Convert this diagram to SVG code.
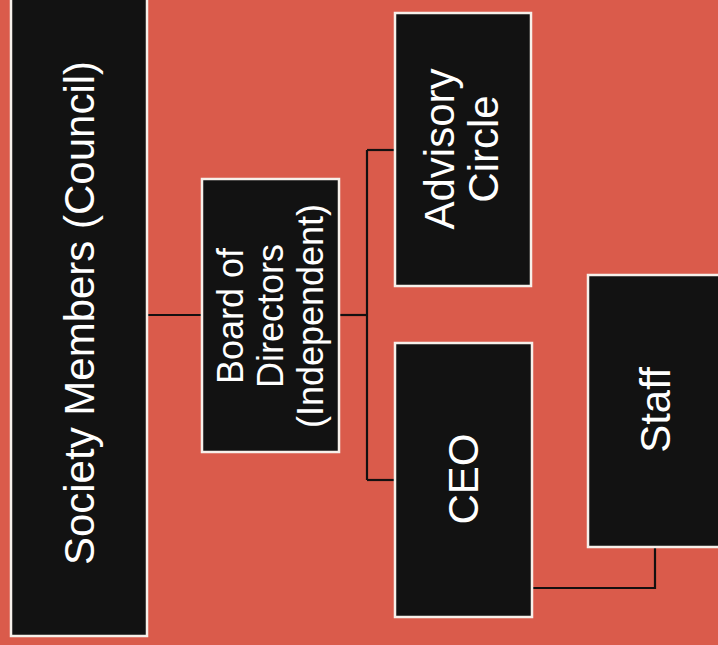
<svg xmlns="http://www.w3.org/2000/svg" width="718" height="645" viewBox="0 0 718 645">
<style>
.box{fill:#121212;stroke:#f6f0ea;stroke-width:2.5}
.lbl{fill:#ffffff;font-family:"Liberation Sans",Arial,sans-serif;text-anchor:middle}
.con{fill:none;stroke:#141010;stroke-width:2.2}
</style>
<rect x="0" y="0" width="718" height="645" fill="#DA5B4B"/>
<g id="connectors">
<path class="con" d="M147 315 H202"/>
<path class="con" d="M339 315 H367"/>
<path class="con" d="M367 150 V480"/>
<path class="con" d="M367 150 H395"/>
<path class="con" d="M367 480 H395"/>
<path class="con" d="M532 588 H655 V547"/>
</g>
<g id="society">
<rect class="box" x="11" y="-5" width="136" height="641"/>
<text class="lbl" font-size="42" transform="translate(94,313) rotate(-90)" x="0" y="0">Society Members (Council)</text>
</g>
<g id="board">
<rect class="box" x="202" y="179" width="137" height="273"/>
<text class="lbl" font-size="36" transform="translate(270,316) rotate(-90)"><tspan x="0" y="-27">Board of</tspan><tspan x="0" y="13">Directors</tspan><tspan x="0" y="53">(Independent)</tspan></text>
</g>
<g id="advisory">
<rect class="box" x="395" y="13" width="136" height="273"/>
<text class="lbl" font-size="42" transform="translate(463,149) rotate(-90)"><tspan x="0" y="-9">Advisory</tspan><tspan x="0" y="35">Circle</tspan></text>
</g>
<g id="ceo">
<rect class="box" x="395" y="343" width="137" height="274"/>
<text class="lbl" font-size="42" transform="translate(478,479) rotate(-90)" x="0" y="0">CEO</text>
</g>
<g id="staff">
<rect class="box" x="588" y="275" width="140" height="272"/>
<text class="lbl" font-size="42" transform="translate(670,410) rotate(-90)" x="0" y="0">Staff</text>
</g>
</svg>
